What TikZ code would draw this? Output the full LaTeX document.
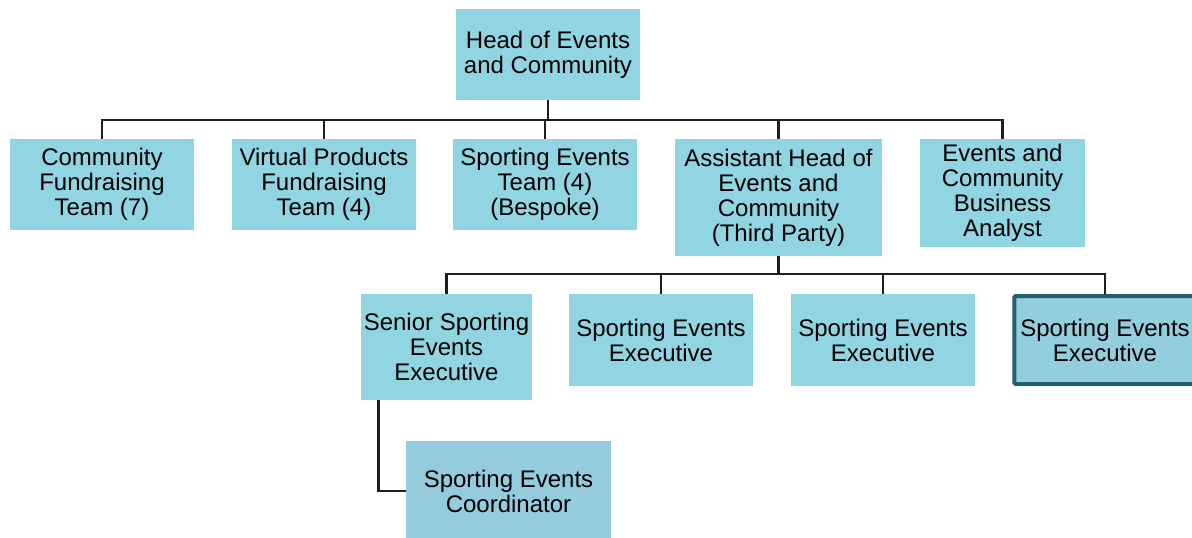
\documentclass[tikz,border=0pt]{standalone}
\usepackage{fontspec}
\setmainfont{Liberation Sans}
\usepackage{xcolor}
\definecolor{roleblue}{HTML}{92D5E2}
\definecolor{coordblue}{HTML}{94CCDD}
\definecolor{pickblue}{HTML}{93CEDF}
\definecolor{pickedge}{HTML}{235E6D}
\definecolor{linkgrey}{HTML}{1E1E1E}

\begin{document}
\begin{tikzpicture}[x=0.75pt,y=-0.75pt,
    font=\fontsize{18}{18.75}\selectfont,
    role/.style={fill=roleblue,align=center,inner sep=0pt,
                 minimum width=138pt,minimum height=68.25pt},
    link/.style={draw=linkgrey,line width=2pt}]
  \useasboundingbox (0,0) rectangle (1192,537);

  % top of the chart
  \node[role] (head) at (548,54.5) {Head of Events\\and Community};

  % first row
  \node[role] (cfund) at (102,184.5) {Community\\Fundraising\\Team (7)};
  \node[role] (vprod) at (324,184.5) {Virtual Products\\Fundraising\\Team (4)};
  \node[role] (sport) at (545,184.5) {Sporting Events\\Team (4)\\(Bespoke)};
  \node[role,minimum width=155.25pt,minimum height=87.75pt] (asst) at (778.5,197.5)
    {Assistant Head of\\Events and\\Community\\(Third Party)};
  \node[role,minimum width=123.75pt,minimum height=81pt] (analyst) at (1002.5,193)
    {Events and\\Community\\Business\\Analyst};

  % second row
  \node[role,minimum width=128.25pt,minimum height=79.5pt] (senior) at (446.5,347)
    {Senior Sporting\\Events\\Executive};
  \node[role,minimum height=69pt] (exec1) at (661,340) {Sporting Events\\Executive};
  \node[role,minimum height=69pt] (exec2) at (883,340) {Sporting Events\\Executive};
  \node[role,fill=pickblue,draw=pickedge,line width=3pt,rounded corners=1pt,
        minimum width=136pt,minimum height=66pt] (exec3) at (1105,340)
    {Sporting Events\\Executive};

  % under the senior executive
  \node[role,fill=coordblue,minimum width=153.75pt,minimum height=75pt] (coord) at (508.5,491)
    {Sporting Events\\Coordinator};

  % connectors
  \coordinate (bus1) at (548,120);
  \coordinate (bus2) at (778.5,274);
  \draw[link] (head) -- (bus1);
  \foreach \n in {cfund,vprod,sport,asst,analyst}
    \draw[link] (bus1) -| (\n);
  \draw[link] (asst) -- (bus2);
  \foreach \n in {senior,exec1,exec2,exec3}
    \draw[link] (bus2) -| (\n);
  \draw[link] ([xshift=-51pt]senior.south) |- (coord.west);
\end{tikzpicture}
\end{document}
